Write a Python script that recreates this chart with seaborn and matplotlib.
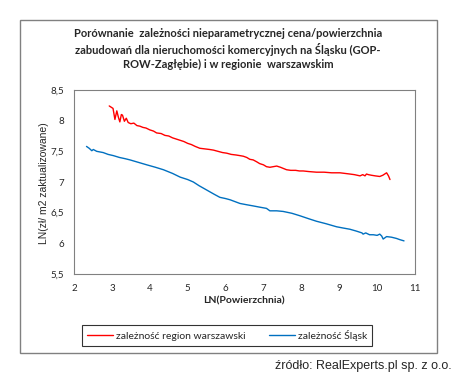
import matplotlib
matplotlib.use("Agg")
import matplotlib.pyplot as plt
import seaborn as sns
import pandas as pd
from matplotlib.patches import Rectangle

# dane
red_label = "zależność region warszawski"
blue_label = "zależność Śląsk"

red_x = [2.93, 2.98, 3.03, 3.08, 3.13, 3.17, 3.21, 3.25, 3.28, 3.33,
         3.38, 3.43, 3.5, 3.58, 3.66, 3.74, 3.82, 3.9, 4.0, 4.1,
         4.18, 4.3, 4.4, 4.5, 4.6, 4.7, 4.8, 4.9, 5.0, 5.1,
         5.2, 5.32, 5.45, 5.58, 5.68, 5.8, 5.92, 6.03, 6.15, 6.28,
         6.38, 6.47, 6.56, 6.64, 6.73, 6.82, 6.9, 7.0, 7.08, 7.17,
         7.26, 7.35, 7.45, 7.53, 7.61, 7.72, 7.85, 7.95, 8.05, 8.2,
         8.4, 8.6, 8.8, 9.02, 9.15, 9.28, 9.4, 9.55, 9.62, 9.68,
         9.72, 9.77, 9.85, 9.95, 10.07, 10.15, 10.25, 10.3, 10.34]
red_y = [8.24, 8.22, 8.2, 8.02, 8.16, 8.06, 7.98, 8.1, 8.09, 7.99,
         8.04, 7.97, 7.95, 7.96, 7.92, 7.91, 7.89, 7.88, 7.85, 7.83,
         7.80, 7.79, 7.76, 7.75, 7.72, 7.70, 7.68, 7.66, 7.63, 7.61,
         7.58, 7.55, 7.54, 7.53, 7.52, 7.50, 7.48, 7.47, 7.45, 7.44,
         7.43, 7.42, 7.40, 7.37, 7.36, 7.33, 7.30, 7.28, 7.25, 7.24,
         7.25, 7.26, 7.24, 7.22, 7.20, 7.19, 7.19, 7.18, 7.18, 7.17,
         7.16, 7.16, 7.15, 7.15, 7.14, 7.13, 7.12, 7.10, 7.12, 7.10,
         7.13, 7.12, 7.11, 7.10, 7.09, 7.11, 7.15, 7.10, 7.04]

blue_x = [2.33, 2.40, 2.47, 2.51, 2.6, 2.77, 2.9, 3.04, 3.2, 3.35,
          3.48, 3.7, 3.92, 4.15, 4.36, 4.6, 4.8, 5.0, 5.15, 5.3,
          5.5, 5.7, 5.85, 6.0, 6.12, 6.25, 6.38, 6.55, 6.73, 6.9,
          7.08, 7.17, 7.35, 7.52, 7.75, 7.96, 8.2, 8.4, 8.65, 8.93,
          9.1, 9.28, 9.45, 9.6, 9.63, 9.7, 9.8, 9.9, 10.0, 10.07,
          10.12, 10.16, 10.25, 10.38, 10.51, 10.6, 10.71]
blue_y = [7.58, 7.55, 7.51, 7.53, 7.50, 7.48, 7.45, 7.43, 7.40, 7.38,
          7.36, 7.32, 7.28, 7.24, 7.20, 7.14, 7.08, 7.04, 7.00, 6.94,
          6.87, 6.80, 6.75, 6.73, 6.71, 6.68, 6.65, 6.63, 6.61, 6.59,
          6.57, 6.53, 6.53, 6.52, 6.49, 6.45, 6.40, 6.36, 6.32, 6.27,
          6.25, 6.23, 6.20, 6.17, 6.15, 6.17, 6.14, 6.14, 6.13, 6.15,
          6.12, 6.07, 6.11, 6.10, 6.08, 6.06, 6.04]

x_ticks = [2, 3, 4, 5, 6, 7, 8, 9, 10, 11]
y_ticks = [5.5, 6, 6.5, 7, 7.5, 8, 8.5]

df = pd.concat([
    pd.DataFrame({"x": red_x, "y": red_y, "seria": red_label}),
    pd.DataFrame({"x": blue_x, "y": blue_y, "seria": blue_label}),
])

sns.set_style("white")
plt.rcParams["font.family"] = ["Lato", "DejaVu Sans"]

fig = plt.figure(figsize=(4.57, 3.76), dpi=100)
ax = fig.add_axes([74 / 457, 1 - 274 / 376, 341 / 457, 184 / 376])

sns.lineplot(data=df, x="x", y="y", hue="seria", estimator=None, sort=False,
             palette={red_label: "#FF0000", blue_label: "#0070C0"},
             linewidth=1.0, ax=ax)

ax.set_xlim(2, 11)
ax.set_ylim(5.5, 8.5)
ax.set_xticks(x_ticks)
ax.set_xticklabels([str(t) for t in x_ticks])
ax.set_yticks(y_ticks)
ax.set_yticklabels([f"{t:g}".replace(".", ",") for t in y_ticks])
ax.tick_params(axis="both", direction="out", length=4, width=0.8, color="#808080",
               labelsize=7, pad=3)
for s in ax.spines.values():
    s.set_color("#808080")
    s.set_linewidth(0.8)
ax.set_xlabel("")
ax.set_ylabel("")

handles, labels = ax.get_legend_handles_labels()
ax.get_legend().remove()
leg = fig.legend(handles, labels, loc="center", bbox_to_anchor=(227 / 457, 1 - 335.5 / 376),
                 ncol=2, fontsize=7.5, frameon=True, fancybox=False, edgecolor="black",
                 handlelength=2.5, handletextpad=0.3, columnspacing=2.2, borderpad=0.45,
                 borderaxespad=0)
leg.get_frame().set_linewidth(0.8)

fig.text(228 / 457, 1 - 49 / 376,
         "Porównanie  zależności nieparametrycznej cena/powierzchnia\n"
         "zabudowań dla nieruchomości komercyjnych na Śląsku (GOP-\n"
         "ROW-Zagłębie) i w regionie  warszawskim",
         ha="center", va="center", fontsize=8, fontweight="bold", linespacing=1.3)
fig.text(244 / 457, 1 - 301 / 376, "LN(Powierzchnia)", ha="center", va="center",
         fontsize=7.5, fontweight="bold")
fig.text(44 / 457, 1 - 183 / 376, "LN(zł/ m2 zaktualizowane)", ha="center", va="center",
         rotation=90, fontsize=7.5, family=["Liberation Sans", "DejaVu Sans"])
fig.text(452 / 457, 1 - 366 / 376, "źródło: RealExperts.pl sp. z o.o.", ha="right",
         va="center", fontsize=9, family=["Liberation Sans", "DejaVu Sans"])

fig.patches.append(Rectangle((20 / 457, 1 - 353 / 376), 417 / 457, 333 / 376,
                             transform=fig.transFigure, fill=False,
                             edgecolor="#808080", linewidth=1.0))

fig.savefig("out.png", dpi=100)
